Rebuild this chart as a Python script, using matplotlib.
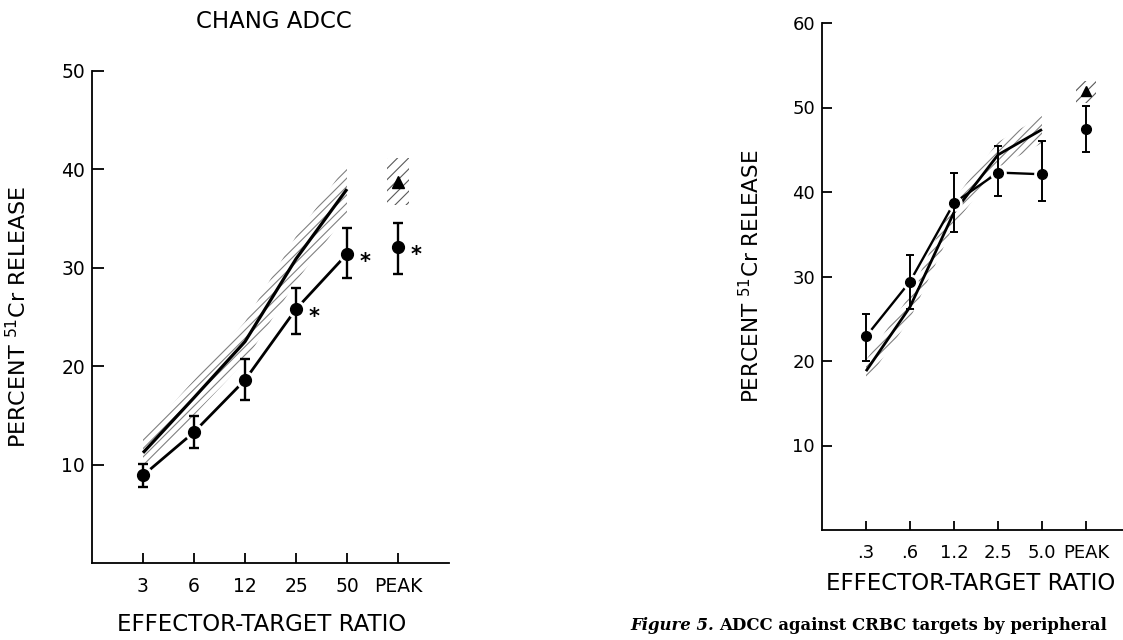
import numpy as np
import matplotlib
matplotlib.use('Agg')
import matplotlib.pyplot as plt

plt.rcParams['font.family'] = ['DejaVu Sans']
plt.rcParams['hatch.linewidth'] = 0.8

# --- left panel: CHANG ADCC ---
left_ticks = ['3', '6', '12', '25', '50', 'PEAK']
left_mean = [8.9, 13.3, 18.6, 25.8, 31.4, 32.1]
left_low = [7.7, 11.7, 16.6, 23.3, 29.0, 29.4]
left_high = [10.1, 14.9, 20.7, 27.9, 34.0, 34.6]
left_star = [False, False, False, True, True, True]
left_upper = [11.2, 16.8, 22.5, 30.9, 38.0]       # normal (hatched) curve, 3..50
left_upper_band = [1.6, 1.8, 2.0, 2.3, 2.5]
left_peak_tri = 38.7
left_peak_band = [36.4, 41.2]

# --- right panel ---
right_ticks = ['.3', '.6', '1.2', '2.5', '5.0', 'PEAK']
right_mean = [22.9, 29.4, 38.7, 42.3, 42.1, 47.5]
right_low = [20.0, 26.2, 35.3, 39.5, 38.9, 44.7]
right_high = [25.6, 32.5, 42.3, 45.5, 46.0, 50.2]
right_upper = [18.8, 26.4, 37.6, 44.4, 47.4]
right_upper_band = [1.3, 1.4, 1.5, 1.5, 1.6]
right_peak_tri = 51.9
right_peak_band = [50.5, 53.1]

W, H = 1123, 640
fig = plt.figure(figsize=(W / 100, H / 100), dpi=100)


def px_axes(x0, y0, x1, y1):
    # pixel box (left, top, right, bottom) -> figure fraction
    return fig.add_axes([x0 / W, 1 - y1 / H, (x1 - x0) / W, (y1 - y0) / H])


def style_axes(ax, ticks, ymax, ytick_step, tick_fs, ylen, xlen):
    for s in ['top', 'right']:
        ax.spines[s].set_visible(False)
    for s in ['left', 'bottom']:
        ax.spines[s].set_linewidth(1.3)
    ax.set_xlim(0, 7)
    ax.set_ylim(0, ymax)
    ax.set_xticks(np.arange(1, len(ticks) + 1))
    ax.set_xticklabels(ticks)
    ax.set_yticks(np.arange(ytick_step, ymax + 1, ytick_step))
    ax.tick_params(axis='y', direction='in', length=ylen, width=1.3, pad=5, labelsize=tick_fs)
    ax.tick_params(axis='x', direction='in', length=xlen, width=1.3, pad=10, labelsize=tick_fs)


def draw_panel(ax, mean, low, high, upper, band, tri, tri_band, ms, cap, lw, star=None):
    x = np.arange(1, len(mean) + 1)
    xu = np.arange(1, len(upper) + 1)
    up = np.array(upper)
    bd = np.array(band)
    ax.fill_between(xu, up - bd, up + bd, facecolor='none', edgecolor='0.5',
                    hatch='////', linewidth=0, zorder=1)
    ax.plot(xu, up, color='black', lw=lw + 0.3, zorder=2, solid_capstyle='butt')
    # circle curve (not to peak)
    ax.plot(x[:-1], mean[:-1], color='black', lw=lw, zorder=2)
    ax.plot(x, mean, 'o', ms=ms, mfc='white', mec='white', mew=5, zorder=3)
    yerr = [np.array(mean) - np.array(low), np.array(high) - np.array(mean)]
    ax.errorbar(x, mean, yerr=yerr, fmt='o', color='black', ms=ms, elinewidth=lw - 0.3,
                capsize=cap, capthick=lw - 0.3, zorder=4)
    # peak triangle with hatched range
    ax.fill_between([x[-1] - 0.22, x[-1] + 0.22], tri_band[0], tri_band[1], facecolor='none',
                    edgecolor='0.35', hatch='///', linewidth=0, zorder=1)
    ax.plot([x[-1]], [tri], '^', color='black', ms=ms + 0.5, zorder=5)
    if star is not None:
        for xi, yi, s in zip(x, mean, star):
            if s:
                ax.annotate('*', xy=(xi, yi), xytext=(9, -6), textcoords='offset points',
                            fontsize=15, fontweight='bold', ha='left', va='center')


# left panel
axL = px_axes(92, 71, 449, 563)
style_axes(axL, left_ticks, 50, 10, 13.5, 8.5, 7)
draw_panel(axL, left_mean, left_low, left_high, left_upper, left_upper_band,
           left_peak_tri, left_peak_band, ms=8.5, cap=3.8, lw=2.0, star=left_star)
axL.text(0.51, 1.1, 'CHANG ADCC', transform=axL.transAxes, ha='center', va='center',
         fontsize=16.5)
axL.set_ylabel(r'PERCENT $^{51}$Cr RELEASE', fontsize=16)
axL.yaxis.set_label_coords(-0.174, 0.5)
axL.set_xlabel('EFFECTOR-TARGET RATIO', fontsize=16.5, va='center')
axL.xaxis.set_label_coords(0.476, -0.126)

# right panel
axR = px_axes(822, 23, 1130, 530)
style_axes(axR, right_ticks, 60, 10, 13, 7, 6.5)
draw_panel(axR, right_mean, right_low, right_high, right_upper, right_upper_band,
           right_peak_tri, right_peak_band, ms=7, cap=2.8, lw=1.7)
axR.set_ylabel(r'PERCENT $^{51}$Cr RELEASE', fontsize=15.5)
axR.yaxis.set_label_coords(-0.19, 0.5)
axR.set_xlabel('EFFECTOR-TARGET RATIO', fontsize=16.5, ha='left', va='center')
axR.xaxis.set_label_coords(0.013, -0.105)

# caption
cap1 = fig.text(630 / W, 1 - 625 / H, 'Figure 5.', family='DejaVu Serif', style='italic',
                fontweight='bold', fontsize=11.9, va='center', ha='left')
fig.canvas.draw()
bb = cap1.get_window_extent()
fig.text(bb.x1 / W + 5 / W, 1 - 625 / H, 'ADCC against CRBC targets by peripheral',
         family='DejaVu Serif', fontweight='bold', fontsize=11.9, va='center', ha='left')

fig.savefig('out.png', dpi=100)
